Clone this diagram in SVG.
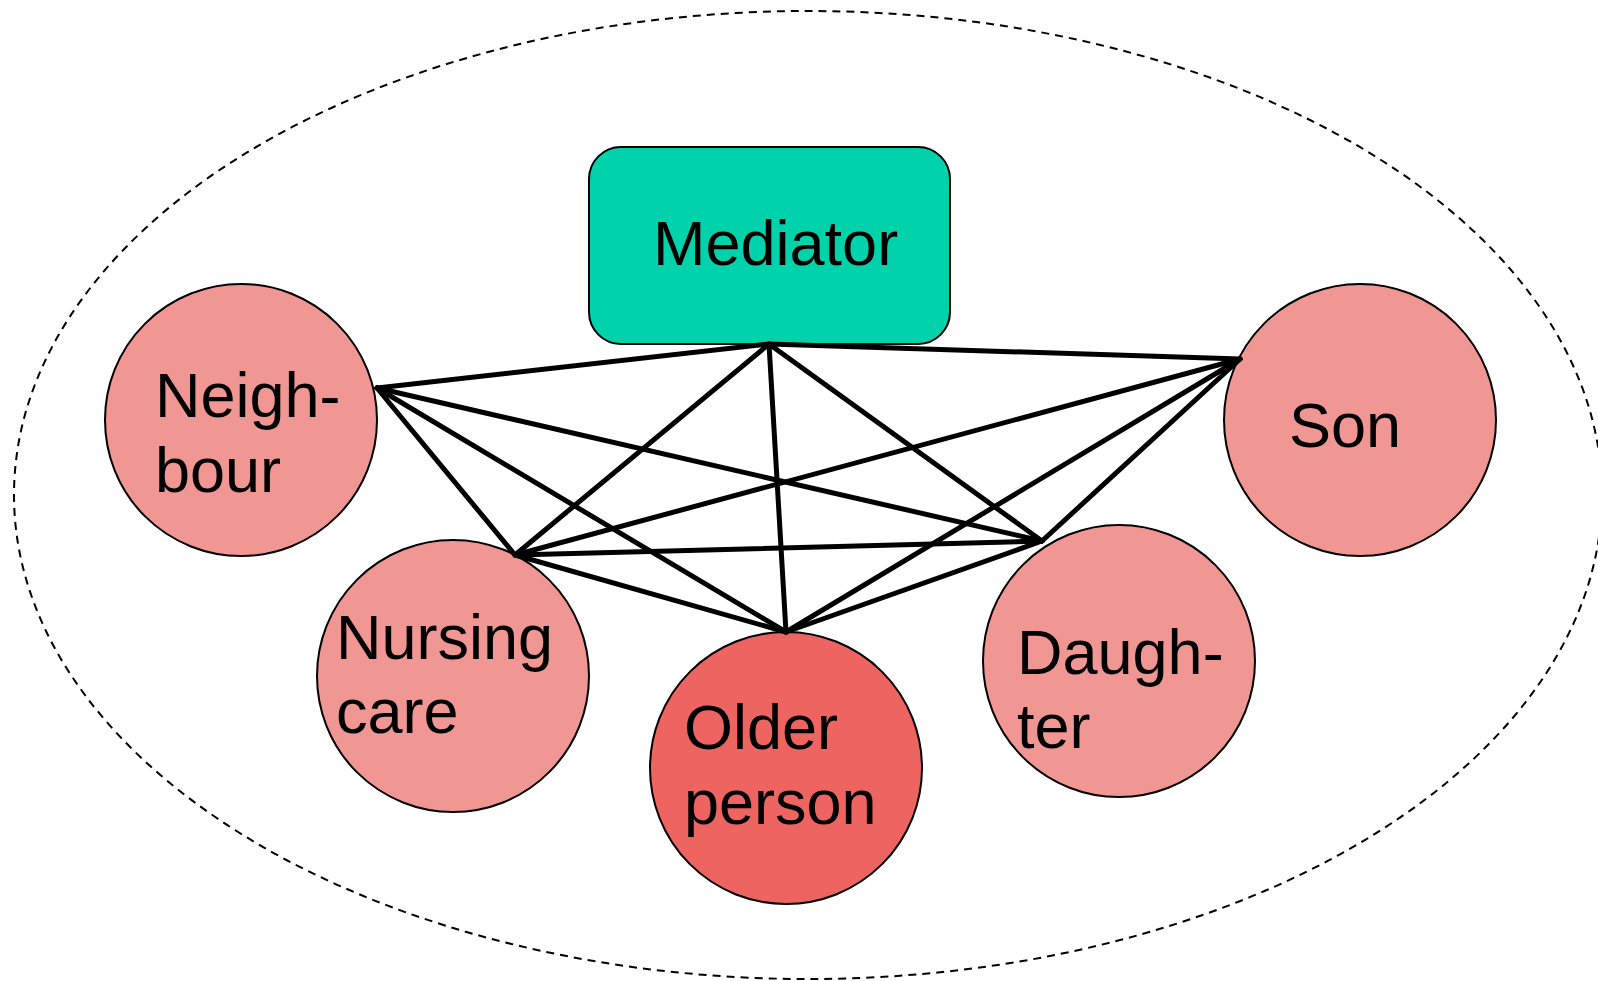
<svg xmlns="http://www.w3.org/2000/svg" width="1598" height="981" viewBox="0 0 1598 981">
<style>
.bg{fill:#ffffff}
.outer{fill:none;stroke:#000;stroke-width:2;stroke-dasharray:8 6}
.node{stroke:#000;stroke-width:2}
.light{fill:#F19793}
.dark{fill:#EE6460}
.med{fill:#00D3AB}
.lbl{font-family:"Liberation Sans",Arial,sans-serif;font-size:63px;fill:#000}
.edge{stroke:#000;stroke-width:5;stroke-linecap:round;fill:none}
</style>
<rect class="bg" x="0" y="0" width="1598" height="981"/>
<ellipse class="outer" cx="808" cy="495" rx="794" ry="484"/>
<g id="mediator">
<rect class="node med" x="589" y="147" width="361" height="197" rx="32" ry="32"/>
<text class="lbl" x="653" y="265">Mediator</text>
</g>
<g id="neighbour">
<circle class="node light" cx="241" cy="420" r="136"/>
<text class="lbl" x="155" y="417">Neigh-</text>
<text class="lbl" x="155" y="492">bour</text>
</g>
<g id="son">
<circle class="node light" cx="1360" cy="420" r="136"/>
<text class="lbl" x="1289" y="447">Son</text>
</g>
<g id="nursing">
<circle class="node light" cx="453" cy="676" r="136"/>
<text class="lbl" x="336" y="659">Nursing</text>
<text class="lbl" x="336" y="733">care</text>
</g>
<g id="older">
<circle class="node dark" cx="786" cy="768" r="136"/>
<text class="lbl" x="684" y="749">Older</text>
<text class="lbl" x="684" y="824">person</text>
</g>
<g id="daughter">
<circle class="node light" cx="1119" cy="661" r="136"/>
<text class="lbl" x="1017" y="674">Daugh-</text>
<text class="lbl" x="1017" y="748">ter</text>
</g>
<g id="connectors">
<line class="edge" x1="769" y1="344" x2="377" y2="388"/>
<line class="edge" x1="769" y1="344" x2="1240" y2="359"/>
<line class="edge" x1="769" y1="344" x2="515" y2="555"/>
<line class="edge" x1="769" y1="344" x2="786" y2="632"/>
<line class="edge" x1="769" y1="344" x2="1042" y2="541"/>
<line class="edge" x1="377" y1="388" x2="515" y2="555"/>
<line class="edge" x1="377" y1="388" x2="786" y2="632"/>
<line class="edge" x1="377" y1="388" x2="1042" y2="541"/>
<line class="edge" x1="1240" y1="359" x2="515" y2="555"/>
<line class="edge" x1="1240" y1="359" x2="786" y2="632"/>
<line class="edge" x1="1240" y1="359" x2="1042" y2="541"/>
<line class="edge" x1="515" y1="555" x2="1042" y2="541"/>
<line class="edge" x1="515" y1="555" x2="786" y2="632"/>
<line class="edge" x1="786" y1="632" x2="1042" y2="541"/>
</g>
</svg>
